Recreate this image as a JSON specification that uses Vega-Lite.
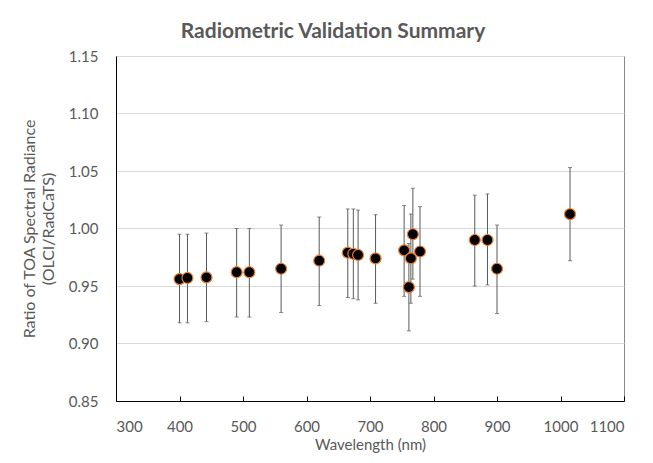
{
  "$schema": "https://vega.github.io/schema/vega-lite/v6.json",
  "autosize": {"type": "none"},
  "width": 508,
  "height": 345,
  "padding": {"left": 116, "top": 56, "right": 29, "bottom": 62},
  "background": "white",
  "title": {
    "text": "Radiometric Validation Summary",
    "font": "Lato",
    "fontSize": 21,
    "fontWeight": "bold",
    "color": "#595959",
    "anchor": "middle",
    "dx": -37,
    "offset": 7
  },
  "data": {
    "values": [
      {"wl": 400, "ratio": 0.956, "lo": 0.918, "hi": 0.995},
      {"wl": 412.5, "ratio": 0.957, "lo": 0.918, "hi": 0.995},
      {"wl": 442.5, "ratio": 0.9575, "lo": 0.919, "hi": 0.996},
      {"wl": 490, "ratio": 0.962, "lo": 0.923, "hi": 1.0},
      {"wl": 510, "ratio": 0.962, "lo": 0.923, "hi": 1.0},
      {"wl": 560, "ratio": 0.965, "lo": 0.927, "hi": 1.003},
      {"wl": 620, "ratio": 0.972, "lo": 0.933, "hi": 1.01},
      {"wl": 665, "ratio": 0.979, "lo": 0.94, "hi": 1.017},
      {"wl": 673.75, "ratio": 0.978, "lo": 0.939, "hi": 1.017},
      {"wl": 681.25, "ratio": 0.977, "lo": 0.938, "hi": 1.016},
      {"wl": 708.75, "ratio": 0.974, "lo": 0.935, "hi": 1.012},
      {"wl": 753.75, "ratio": 0.981, "lo": 0.941, "hi": 1.02},
      {"wl": 761.25, "ratio": 0.949, "lo": 0.911, "hi": 0.987},
      {"wl": 764.375, "ratio": 0.974, "lo": 0.935, "hi": 1.0125},
      {"wl": 767.5, "ratio": 0.995, "lo": 0.956, "hi": 1.035},
      {"wl": 778.75, "ratio": 0.98, "lo": 0.941, "hi": 1.019},
      {"wl": 865, "ratio": 0.99, "lo": 0.95, "hi": 1.029},
      {"wl": 885, "ratio": 0.99, "lo": 0.951, "hi": 1.03},
      {"wl": 900, "ratio": 0.965, "lo": 0.926, "hi": 1.003},
      {"wl": 1015, "ratio": 1.0125, "lo": 0.972, "hi": 1.053}
    ]
  },
  "encoding": {
    "x": {
      "field": "wl",
      "type": "quantitative",
      "scale": {"domain": [300, 1100], "nice": false, "zero": false},
      "axis": {
        "title": "Wavelength (nm)",
        "values": [300, 400, 500, 600, 700, 800, 900, 1000, 1100],
        "format": "d",
        "grid": false,
        "domainColor": "#000000",
        "tickColor": "#000000",
        "tickSize": -5,
        "labelPadding": 23,
        "labelFont": "Lato",
        "labelFontSize": 15,
        "labelColor": "#595959",
        "titleFont": "Lato",
        "titleFontSize": 15,
        "titleFontWeight": "normal",
        "titleColor": "#595959",
        "titlePadding": 3,
        "titleDx": -7
      }
    }
  },
  "layer": [
    {
      "mark": {"type": "rule", "color": "#595959", "strokeWidth": 1},
      "encoding": {
        "y": {
          "field": "lo",
          "type": "quantitative",
          "scale": {"domain": [0.85, 1.15], "nice": false, "zero": false},
          "axis": {
            "title": ["Ratio of TOA Spectral Radiance", "(OLCI/RadCaTS)"],
            "values": [0.85, 0.9, 0.95, 1.0, 1.05, 1.1, 1.15],
            "format": ".2f",
            "grid": true,
            "gridColor": "#d9d9d9",
            "gridWidth": 1,
            "ticks": false,
            "domainColor": "#000000",
            "labelPadding": 18,
            "labelFont": "Lato",
            "labelFontSize": 15,
            "labelColor": "#595959",
            "titleFont": "Lato",
            "titleFontSize": 16,
            "titleFontWeight": "normal",
            "titleColor": "#595959",
            "titlePadding": 12,
            "titleLineHeight": 19
          }
        },
        "y2": {"field": "hi"}
      }
    },
    {
      "mark": {"type": "tick", "color": "#595959", "size": 4, "thickness": 1, "orient": "horizontal"},
      "encoding": {"y": {"field": "lo", "type": "quantitative"}}
    },
    {
      "mark": {"type": "tick", "color": "#595959", "size": 4, "thickness": 1, "orient": "horizontal"},
      "encoding": {"y": {"field": "hi", "type": "quantitative"}}
    },
    {
      "mark": {"type": "point", "shape": "circle", "filled": true, "fill": "#000000", "stroke": "#ED7D31", "strokeWidth": 1.2, "size": 120, "opacity": 1},
      "encoding": {"y": {"field": "ratio", "type": "quantitative"}}
    }
  ],
  "config": {
    "view": {"stroke": "#898989", "strokeWidth": 1}
  }
}
